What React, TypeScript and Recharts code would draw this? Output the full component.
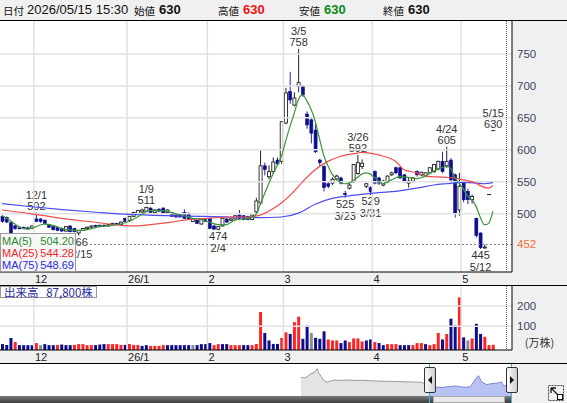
import React from 'react';
import { ComposedChart, AreaChart, Bar, Line, Area, XAxis, YAxis, ReferenceLine, Cell } from 'recharts';

const FONT = '"Liberation Sans", Arial, sans-serif';
const CJK = '"Noto Sans CJK JP", "Liberation Sans", sans-serif';

// trading days, 2025/11/18 .. 2026/05/15
const dates = [
  '11/18', '11/19', '11/20', '11/21', '11/25', '11/26', '11/27', '11/28',
  '12/1', '12/2', '12/3', '12/4', '12/5', '12/8', '12/9', '12/10', '12/11', '12/12', '12/15', '12/16', '12/17', '12/18', '12/19', '12/22', '12/23', '12/24', '12/25', '12/26', '12/29', '12/30',
  '1/5', '1/6', '1/7', '1/8', '1/9', '1/13', '1/14', '1/15', '1/16', '1/19', '1/20', '1/21', '1/22', '1/23', '1/26', '1/27', '1/28', '1/29', '1/30',
  '2/2', '2/3', '2/4', '2/5', '2/6', '2/9', '2/10', '2/12', '2/13', '2/16', '2/17', '2/18', '2/19', '2/20', '2/24', '2/25', '2/26', '2/27',
  '3/2', '3/3', '3/4', '3/5', '3/6', '3/9', '3/10', '3/11', '3/12', '3/13', '3/16', '3/17', '3/18', '3/19', '3/23', '3/24', '3/25', '3/26', '3/27', '3/30', '3/31',
  '4/1', '4/2', '4/3', '4/6', '4/7', '4/8', '4/9', '4/10', '4/13', '4/14', '4/15', '4/16', '4/17', '4/20', '4/21', '4/22', '4/23', '4/24', '4/27', '4/28', '4/30',
  '5/1', '5/7', '5/8', '5/11', '5/12', '5/13', '5/14', '5/15',
];

const opens = [
  496, 494, 486, 481, 478, 479, 478, 477, 492, 492,
  490, 483, 480, 479, 477, 473, 481, 477, 470, 474,
  477, 479, 482, 480, 482, 481, 483, 485, 483, 493,
  490, 496, 500, 503, 504, 509, 502, 507, 509, 502,
  502, 500, 499, 502, 501, 488, 490, 484, 491, 493,
  481, 476, 481, 492, 490, 492, 498, 497, 496, 491,
  503, 517, 575, 558, 566, 584, 582, 642, 691, 670,
  699, 700, 656, 647, 631, 584, 574, 547, 548, 554,
  556, 532, 540, 550, 563, 574, 543, 541, 566, 556,
  545, 550, 561, 572, 572, 561, 548, 551, 566, 561,
  559, 564, 566, 570, 582, 575, 584, 561, 506, 548,
  535, 522, 493, 470, 447, 530, 630,
];
const highs = [
  498, 496, 488, 483, 480, 480, 480, 482, 502, 493,
  491, 484, 481, 480, 479, 481, 482, 478, 475, 478,
  480, 482, 483, 483, 484, 484, 486, 486, 488, 494,
  497, 503, 506, 508, 511, 510, 507, 509, 510, 507,
  503, 501, 500, 507, 502, 493, 491, 493, 492, 494,
  482, 481, 494, 493, 493, 498, 506, 498, 497, 499,
  525, 599, 580, 576, 588, 588, 645, 697, 722, 690,
  758, 701, 660, 650, 640, 586, 576, 550, 557, 561,
  558, 536, 548, 578, 592, 585, 548, 543, 568, 558,
  553, 560, 566, 574, 573, 562, 557, 557, 568, 566,
  565, 573, 578, 583, 597, 605, 587, 563, 564, 550,
  539, 530, 494, 471, 452, 530, 630,
];
const lows = [
  486, 486, 467, 475, 476, 476, 476, 476, 487, 486,
  484, 478, 474, 473, 472, 472, 471, 471, 466, 473,
  476, 477, 479, 479, 480, 480, 482, 482, 482, 487,
  489, 495, 499, 501, 503, 501, 501, 503, 500, 501,
  495, 494, 494, 492, 491, 487, 484, 483, 487, 476,
  475, 474, 480, 486, 489, 491, 492, 490, 490, 490,
  502, 515, 560, 554, 562, 575, 578, 640, 672, 668,
  690, 683, 633, 610, 595, 575, 535, 540, 545, 552,
  546, 525, 538, 548, 561, 570, 540, 529, 546, 545,
  543, 548, 559, 562, 555, 549, 541, 549, 558, 559,
  557, 562, 564, 568, 564, 572, 550, 494, 497, 518,
  515, 516, 463, 445, 446, 530, 630,
];
const closes = [
  488, 487, 469, 477, 477, 477, 477, 481, 488, 488,
  485, 479, 475, 474, 473, 480, 472, 472, 474, 477,
  479, 481, 480, 482, 481, 483, 485, 483, 487, 488,
  496, 502, 505, 506, 510, 502, 506, 504, 501, 506,
  496, 495, 495, 493, 492, 492, 485, 492, 488, 477,
  476, 480, 493, 487, 492, 497, 493, 491, 491, 498,
  520, 575, 569, 566, 581, 578, 644, 689, 678, 681,
  705, 686, 639, 626, 597, 580, 541, 543, 554, 559,
  548, 530, 545, 577, 580, 579, 547, 535, 548, 548,
  551, 559, 564, 564, 556, 550, 551, 556, 561, 565,
  564, 572, 577, 582, 566, 582, 553, 501, 543, 522,
  522, 527, 466, 447, 448, 530, 630,
];

// volume in 万株
const volumes = [
  12, 8, 42, 22, 7, 7, 7, 7, 17, 7,
  12, 7, 7, 8, 10, 7, 7, 8, 12, 12,
  7, 7, 7, 10, 12, 12, 12, 12, 8, 8,
  12, 8, 8, 3, 7, 3, 3, 3, 7, 7,
  7, 7, 7, 7, 7, 7, 7, 12, 12, 17,
  7, 12, 12, 12, 7, 7, 7, 7, 7, 7,
  12, 170, 67, 30, 13, 13, 42, 70, 62, 120,
  147, 38, 103, 67, 43, 38, 75, 35, 30, 30,
  17, 30, 22, 40, 40, 25, 30, 35, 22, 17,
  7, 12, 12, 12, 7, 7, 7, 7, 17, 17,
  12, 7, 12, 67, 35, 62, 137, 103, 242, 45,
  30, 40, 112, 62, 48, 7, 8.78,
];
// r = up, b = down, g = unchanged
const volDir =
  'bbbrbbbbrg' + 'bbbrbbbrrr' + 'rrbbbrrrrb' + 'rrrbbrrrrb' + 'bbbbbgbbbb' +
  'rrbbrrrbbr' + 'rrbbbbrrbr' + 'rbbgbbbrrr' + 'bbrrrrbbrb' + 'brrrbbbrrr' +
  'brrrbrbbrb' + 'grbbrrr';

const ma5Pts: [string, number][] = [
  ['11/18', 497], ['11/20', 489], ['11/25', 480], ['11/27', 476], ['12/1', 480], ['12/3', 484], ['12/5', 482],
  ['12/9', 477], ['12/11', 475], ['12/15', 474], ['12/17', 475], ['12/22', 480], ['12/25', 482], ['12/29', 484],
  ['1/5', 488], ['1/7', 495], ['1/9', 503], ['1/13', 505], ['1/15', 505], ['1/19', 504], ['1/21', 500],
  ['1/23', 497], ['1/27', 493], ['1/29', 491], ['2/2', 487], ['2/4', 483], ['2/6', 483], ['2/10', 490],
  ['2/13', 492], ['2/17', 494], ['2/18', 499], ['2/19', 514], ['2/20', 531], ['2/24', 547], ['2/25', 562],
  ['2/26', 575], ['2/27', 590], ['3/2', 613], ['3/3', 636], ['3/4', 656], ['3/5', 678], ['3/6', 686],
  ['3/9', 677], ['3/10', 664], ['3/11', 645], ['3/12', 618], ['3/13', 592], ['3/16', 575], ['3/17', 562],
  ['3/18', 555], ['3/19', 549], ['3/23', 547], ['3/24', 548], ['3/25', 552], ['3/26', 557], ['3/27', 562],
  ['3/30', 564], ['3/31', 562], ['4/1', 557], ['4/3', 547], ['4/7', 553], ['4/9', 558], ['4/13', 557],
  ['4/15', 555], ['4/17', 559], ['4/21', 567], ['4/23', 572], ['4/24', 574], ['4/27', 571], ['4/28', 557],
  ['4/30', 548], ['5/1', 539], ['5/7', 528], ['5/8', 522], ['5/11', 512], ['5/12', 495], ['5/13', 483],
  ['5/14', 485], ['5/15', 504.2],
];
const ma25Pts: [string, number][] = [
  ['11/18', 506], ['11/28', 500], ['12/10', 492], ['12/22', 486], ['12/29', 482], ['1/7', 481], ['1/13', 483],
  ['1/20', 487], ['1/26', 491], ['2/2', 493], ['2/9', 495], ['2/16', 495], ['2/19', 498], ['2/25', 508],
  ['2/27', 517], ['3/4', 535], ['3/6', 550], ['3/11', 569], ['3/16', 582], ['3/19', 590], ['3/26', 595],
  ['3/27', 596], ['4/2', 592], ['4/8', 582], ['4/10', 569], ['4/15', 564], ['4/17', 559], ['4/24', 557],
  ['4/28', 556], ['5/1', 553], ['5/11', 548], ['5/12', 544], ['5/14', 540], ['5/15', 544.28],
];
const ma75Pts: [string, number][] = [
  ['11/18', 516], ['11/28', 511], ['12/10', 506], ['12/22', 502], ['1/5', 499], ['1/19', 497], ['1/29', 496],
  ['2/9', 495], ['2/19', 494], ['2/27', 495], ['3/5', 501], ['3/11', 515], ['3/17', 524], ['3/24', 528],
  ['3/30', 531], ['4/2', 533], ['4/8', 535], ['4/15', 540], ['4/21', 545], ['4/24', 547], ['5/1', 549],
  ['5/11', 548], ['5/13', 547], ['5/15', 548.69],
];

const priceTicks = [500, 550, 600, 650, 700, 750];
const markPrice = 452;
const volTicks = [100, 200];
const monthStarts = ['12/1', '1/5', '2/2', '3/2', '4/1', '5/1'];
const monthLabels = ['12', '26/1', '2', '3', '4', '5'];
const highTags = ['12/1', '1/9', '3/5', '3/26', '4/24', '5/15'];
const lowTags = ['12/15', '2/4', '3/23', '3/31', '5/12'];

// navigator (overview) series
const navDates = [
  '2025-02-17', '2025-02-24', '2025-03-03', '2025-03-10', '2025-03-17', '2025-03-24', '2025-03-27', '2025-04-01',
  '2025-04-07', '2025-04-14', '2025-04-21', '2025-05-01', '2025-05-15', '2025-06-02', '2025-06-16', '2025-07-01',
  '2025-07-15', '2025-08-01', '2025-08-15', '2025-09-01', '2025-09-16', '2025-10-01', '2025-10-15', '2025-11-04',
  '2025-11-18', '2025-12-01', '2025-12-15', '2026-01-05', '2026-01-15', '2026-02-02', '2026-02-16', '2026-02-27',
  '2026-03-05', '2026-03-12', '2026-03-23', '2026-04-01', '2026-04-15', '2026-04-24', '2026-04-28', '2026-05-08',
  '2026-05-12', '2026-05-15',
];
const navVals = [
  670, 660, 690, 740, 760, 840, 760, 690,
  610, 575, 600, 620, 612, 620, 610, 614,
  605, 600, 596, 594, 590, 585, 582, 575,
  488, 488, 474, 496, 505, 477, 491, 644,
  705, 580, 530, 548, 561, 582, 501, 527,
  447, 630,
];
const navYears = ['2024-01-01', '2025-01-01', '2026-01-01'];
const navYearLabels = ['24', '25', '26'];
const windowStart = '2025-11-18';

const PRICE_DOMAIN: [number, number] = [409, 803];
const VOL_DOMAIN: [number, number] = [-17, 303];
const PAD_R = 17;
const GRID = '#e1e1e1';
const UP_RED = '#ff2424';
const DOWN_BLUE = '#0d0d8e';

const m5 = new Map(ma5Pts);
const m25 = new Map(ma25Pts);
const m75 = new Map(ma75Pts);
const rows = dates.map((d, i) => ({
  d, o: opens[i], h: highs[i], l: lows[i], c: closes[i], v: volumes[i], vd: volDir[i],
  ma5: m5.get(d) ?? null, ma25: m25.get(d) ?? null, ma75: m75.get(d) ?? null,
}));

const ws = Date.parse(windowStart);
const navRows = navDates.map((d, i) => {
  const t = Date.parse(d);
  return { t, out: t <= ws ? navVals[i] : null, inn: t >= ws ? navVals[i] : null };
});

const volColor: Record<string, string> = { r: UP_RED, b: DOWN_BLUE, g: '#8e8e8e' };

function Candle(props: any) {
  const { x, y, width, height, payload } = props;
  if (!payload) return null;
  const { o, h, l, c, d } = payload;
  const cx = x + width / 2;
  const k = h > l ? height / (h - l) : 0;
  const py = (v: number) => y + (h - v) * k;
  const up = c > o;
  const flat = c === o;
  const top = py(Math.max(o, c));
  const bot = py(Math.min(o, c));
  const ink = up || flat ? '#222' : '#2424b0';
  const txt = { fontSize: 11, fill: '#333', textAnchor: 'middle' as const };
  return (
    <g>
      <line x1={cx} x2={cx} y1={y} y2={y + height} stroke={ink} strokeWidth={1} />
      {flat ? (
        <line x1={x - 0.5} x2={x + width + 0.5} y1={top} y2={top} stroke="#222" strokeWidth={1} />
      ) : (
        <rect x={x} y={top} width={width} height={Math.max(bot - top, 1)}
          fill={up ? '#fff' : DOWN_BLUE} stroke={up ? '#222' : DOWN_BLUE} strokeWidth={up ? 0.9 : 0.6} />
      )}
      {highTags.includes(d) && (
        <g>
          <text x={cx} y={y - 14} {...txt}>{d}</text>
          <text x={cx} y={y - 3} {...txt}>{h}</text>
        </g>
      )}
      {lowTags.includes(d) && (
        <g>
          <text x={cx} y={y + height + 10} {...txt}>{l}</text>
          <text x={cx} y={y + height + 22} {...txt}>{d}</text>
        </g>
      )}
    </g>
  );
}

const MonthTick = ({ x, y, payload }: any) => {
  const i = monthStarts.indexOf(payload.value);
  return (
    <text x={x - 1} y={y + 9} fontSize={11} fill="#222" textAnchor="start">{monthLabels[i]}</text>
  );
};

const PriceTick = ({ x, y, payload }: any) => (
  <text x={x} y={y} dy={4} fontSize={11.5} textAnchor="start"
    fill={payload.value === markPrice ? '#f06a3a' : '#3a4660'}>{payload.value}</text>
);

const YearTick = ({ x, y, payload }: any) => {
  const i = navYears.map((s) => Date.parse(s)).indexOf(payload.value);
  return <text x={x + 4} y={y + 27} fontSize={11} fill="#333" textAnchor="start">{navYearLabels[i]}</text>;
};

const abs = (s: React.CSSProperties): React.CSSProperties => ({ position: 'absolute', ...s });

function Handle({ left, dir }: { left: number; dir: 'l' | 'r' }) {
  return (
    <div style={abs({ left, top: 367, width: 12, height: 26, boxSizing: 'border-box', border: '1px solid #333',
      borderRadius: 2, background: 'linear-gradient(90deg,#fbfbfb,#cdcdcd)' })}>
      <svg width={10} height={24} style={{ display: 'block' }}>
        {dir === 'l' ? <polygon points="7,8 3,12 7,16" fill="#111" /> : <polygon points="3,8 7,12 3,16" fill="#111" />}
      </svg>
    </div>
  );
}

export default function App() {
  const last = dates.length - 1;
  const headerItems: { t: string; x: number; cjk?: boolean; bold?: boolean; color?: string }[] = [
    { t: '日付', x: 3, cjk: true },
    { t: '2026/05/15 15:30', x: 27 },
    { t: '始値', x: 134, cjk: true },
    { t: String(opens[last]), x: 159, bold: true },
    { t: '高値', x: 218, cjk: true },
    { t: String(highs[last]), x: 243, bold: true, color: '#f01010' },
    { t: '安値', x: 299, cjk: true },
    { t: String(lows[last]), x: 324, bold: true, color: '#0a8a1a' },
    { t: '終値', x: 383, cjk: true },
    { t: String(closes[last]), x: 408, bold: true },
  ];
  const maLegend = [
    { n: 'MA(5)', v: ma5Pts[ma5Pts.length - 1][1], c: '#2c8a2c' },
    { n: 'MA(25)', v: ma25Pts[ma25Pts.length - 1][1], c: '#f02828' },
    { n: 'MA(75)', v: ma75Pts[ma75Pts.length - 1][1], c: '#2a2ae0' },
  ];
  const volText = Math.round(volumes[last] * 10000).toLocaleString('en-US');

  return (
    <div style={abs({ left: 0, top: 0, width: 567, height: 403, overflow: 'hidden', background: '#f0f0f0', fontFamily: FONT })}>
      {/* header */}
      {headerItems.map((it, i) => (
        <span key={i} style={abs({ left: it.x, top: it.cjk ? 3 : 2, fontSize: it.cjk ? 10.5 : 13, lineHeight: '16px',
          fontFamily: it.cjk ? CJK : FONT, fontWeight: it.bold ? 700 : 400, color: it.color || '#111', whiteSpace: 'nowrap' })}>
          {it.t}
        </span>
      ))}

      {/* plot backgrounds */}
      <div style={abs({ left: 0, top: 20, width: 512, height: 252, background: '#fff' })} />
      <div style={abs({ left: 0, top: 285, width: 512, height: 65, background: '#fff' })} />
      <div style={abs({ left: 0, top: 363, width: 512, height: 33, background: '#fff' })} />

      {/* price panel */}
      <div style={abs({ left: 0, top: 20 })}>
        <ComposedChart width={567} height={265} data={rows} margin={{ top: 0, right: 0, bottom: 0, left: 0 }}>
          <XAxis dataKey="d" ticks={monthStarts} interval={0} tick={<MonthTick />} tickLine={false} tickSize={0}
            axisLine={{ stroke: '#000' }} height={13} padding={{ left: 0, right: PAD_R }} />
          <YAxis orientation="right" width={55} domain={PRICE_DOMAIN} allowDataOverflow ticks={[markPrice, ...priceTicks]}
            tick={<PriceTick />} tickLine={false} tickSize={0} tickMargin={5} axisLine={{ stroke: '#000' }} />
          {priceTicks.map((v) => <ReferenceLine key={v} y={v} stroke={GRID} strokeWidth={1.5} />)}
          {monthStarts.map((d) => <ReferenceLine key={d} x={d} position="start" stroke={GRID} strokeWidth={1.5} />)}
          <ReferenceLine y={markPrice} stroke="#8a8a8a" strokeDasharray="2 2" />
          <Bar dataKey={(r: any) => [r.l, r.h]} barSize={3} shape={(p: any) => <Candle {...p} />} isAnimationActive={false} />
          <Line dataKey="ma75" type="monotone" stroke="#4c4cf2" strokeWidth={1.2} dot={false} connectNulls isAnimationActive={false} />
          <Line dataKey="ma25" type="monotone" stroke="#f24c4c" strokeWidth={1.2} dot={false} connectNulls isAnimationActive={false} />
          <Line dataKey="ma5" type="monotone" stroke="#3c963c" strokeWidth={1.2} dot={false} connectNulls isAnimationActive={false} />
        </ComposedChart>
      </div>
      <div style={abs({ left: 506, top: 20, height: 252, borderLeft: '1px dotted #666' })} />

      {/* MA legend */}
      <div style={abs({ left: 0, top: 233, width: 76, height: 39, boxSizing: 'border-box', border: '1px solid #9a9a9a',
        background: 'rgba(246,246,246,0.92)' })}>
        {maLegend.map((m, i) => (
          <div key={m.n} style={abs({ left: 1, top: 1 + i * 12, width: 72, fontSize: 11, lineHeight: '12px', color: m.c })}>
            <span>{m.n}</span>
            <span style={{ position: 'absolute', right: 0 }}>{m.v.toFixed(2)}</span>
          </div>
        ))}
      </div>

      {/* volume panel */}
      <div style={abs({ left: 0, top: 285 })}>
        <ComposedChart width={567} height={78} data={rows} margin={{ top: 0, right: 0, bottom: 0, left: 0 }}>
          <XAxis dataKey="d" ticks={monthStarts} interval={0} tick={<MonthTick />} tickLine={false} tickSize={0}
            axisLine={{ stroke: '#000' }} height={13} padding={{ left: 0, right: PAD_R }} />
          <YAxis orientation="right" width={55} domain={VOL_DOMAIN} allowDataOverflow ticks={volTicks}
            tick={{ fontSize: 11.5, fill: '#3a4660', textAnchor: 'start' }} tickLine={false} tickSize={0} tickMargin={5}
            axisLine={{ stroke: '#000' }}
            label={{ value: '(万株)', position: 'insideBottom', offset: 3, fontSize: 11, fill: '#333', fontFamily: CJK }} />
          {volTicks.map((v) => <ReferenceLine key={v} y={v} stroke={GRID} strokeWidth={1.5} />)}
          {monthStarts.map((d) => <ReferenceLine key={d} x={d} position="start" stroke={GRID} strokeWidth={1.5} />)}
          <Bar dataKey={(r: any) => [VOL_DOMAIN[0], r.v]} barSize={3} isAnimationActive={false}>
            {rows.map((r, i) => <Cell key={i} fill={volColor[r.vd]} />)}
          </Bar>
        </ComposedChart>
      </div>
      <div style={abs({ left: 506, top: 286, height: 63, borderLeft: '1px dotted #666' })} />
      <div style={abs({ left: 0, top: 285, width: 567, height: 1, background: '#000' })} />
      <div style={abs({ left: 0, top: 286, height: 12, boxSizing: 'border-box', border: '1px solid #9a9a9a', background: '#fff',
        padding: '0 3px', fontSize: 11.5, lineHeight: '10px', color: '#2b2ba6', fontFamily: CJK, whiteSpace: 'nowrap' })}>
        出来高&nbsp;&nbsp;&nbsp;{volText}株
      </div>

      {/* navigator */}
      <div style={abs({ left: 0, top: 363 })}>
        <AreaChart width={512} height={33} data={navRows} margin={{ top: 0, right: 0, bottom: 0, left: 0 }}>
          <XAxis type="number" dataKey="t" domain={[Date.parse('2023-05-13'), Date.parse('2026-05-16')]} allowDataOverflow
            ticks={navYears.map((s) => Date.parse(s))} tick={<YearTick />} orientation="top" height={0}
            axisLine={false} tickLine={false} tickSize={0} />
          <YAxis hide domain={[310, 950]} allowDataOverflow />
          <Area type="linear" dataKey="out" stroke="#9c9c9c" fill="#e4e4e4" fillOpacity={1} dot={false} isAnimationActive={false} />
          <Area type="linear" dataKey="inn" stroke="#7d87d6" fill="#b8c2f3" fillOpacity={1} dot={false} isAnimationActive={false} />
        </AreaChart>
      </div>
      <div style={abs({ left: 0, top: 363, width: 567, height: 1, background: '#000' })} />
      <div style={abs({ left: 0, top: 396, width: 512, height: 7, background: 'linear-gradient(#7a7a7a,#3c3c3c)' })} />
      <div style={abs({ left: 433, top: 396, width: 72, height: 7, boxSizing: 'border-box', border: '1px solid #aaa', background: '#e8e8e8' })} />
      <div style={abs({ left: 429, top: 364, width: 1, height: 39, background: '#3ab4e6' })} />
      <div style={abs({ left: 511, top: 364, width: 1, height: 39, background: '#3ab4e6' })} />
      <Handle left={424} dir="l" />
      <Handle left={506} dir="r" />
      <svg width={16} height={16} style={abs({ left: 548, top: 385 })}>
        <rect x={0.5} y={0.5} width={15} height={15} fill="none" stroke="#444" strokeDasharray="2 1" />
        <path d="M3 3 L10 10 M3 3 L3 8 M3 3 L8 3" stroke="#111" strokeWidth={1.3} fill="none" />
        <rect x={9.5} y={9.5} width={5} height={5} fill="#fff" stroke="#111" />
      </svg>

      {/* top header line */}
      <div style={abs({ left: 0, top: 20, width: 567, height: 1, background: '#000' })} />
    </div>
  );
}
